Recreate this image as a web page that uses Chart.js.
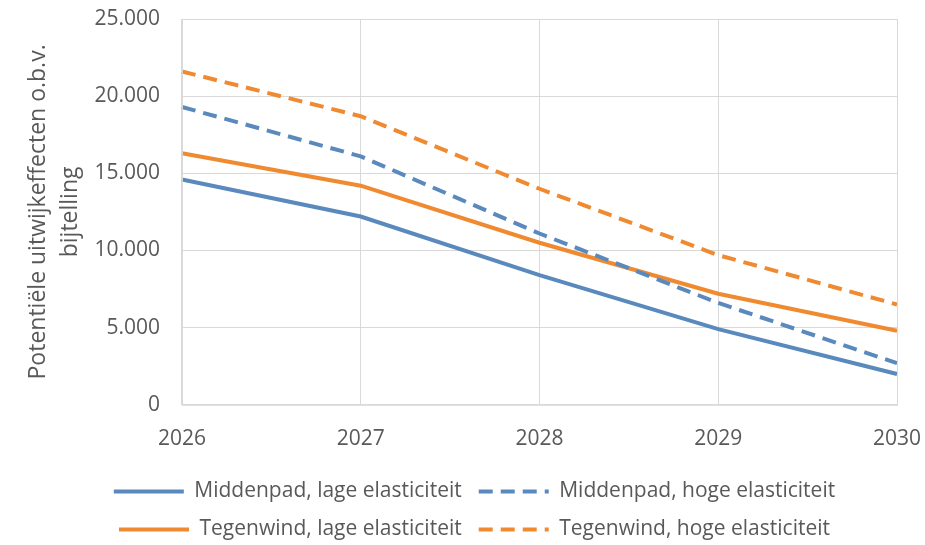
<!DOCTYPE html>
<html>
<head>
<meta charset="utf-8">
<script src="https://cdn.jsdelivr.net/npm/chart.js@4"></script>
<style>
  html, body { margin: 0; padding: 0; background: #fff; }
  #wrap { width: 925px; height: 545px; }
</style>
</head>
<body>
<div id="wrap"><canvas id="chart" width="925" height="545"></canvas></div>
<script>
// =====================================================
// DATA
// =====================================================

const jaren = ['2026', '2027', '2028', '2029', '2030']

const middenpadLaag  = [14600, 12200, 8400, 4900, 2000]
const middenpadHoog  = [19300, 16100, 11100, 6600, 2700]
const tegenwindLaag  = [16300, 14200, 10500, 7200, 4800]
const tegenwindHoog  = [21600, 18700, 14000, 9700, 6500]

const yTicks = [0, 5000, 10000, 15000, 20000, 25000]

const FONT   = 'Open Sans'
const GRIJS  = '#595959'
const BLAUW  = '#5a89bd'
const ORANJE = '#f08a30'

// =====================================================
// CHART
// =====================================================

function fmt(v) { return String(v).replace(/\B(?=(\d{3})+(?!\d))/g, '.') }

function lijn(label, data, kleur, dash) {
  return {
    label,
    data,
    borderColor: kleur,
    backgroundColor: kleur,
    borderWidth: 4,
    borderDash: dash ? [14, 8] : [],
    pointRadius: 0,
    tension: 0,
    fill: false
  }
}

new Chart(document.getElementById('chart').getContext('2d'), {
  type: 'line',
  data: {
    labels: jaren,
    datasets: [
      lijn('Middenpad, lage elasticiteit', middenpadLaag, BLAUW, false),
      lijn('Middenpad, hoge elasticiteit', middenpadHoog, BLAUW, true),
      lijn('Tegenwind, lage elasticiteit', tegenwindLaag, ORANJE, false),
      lijn('Tegenwind, hoge elasticiteit', tegenwindHoog, ORANJE, true)
    ]
  },
  options: {
    responsive: false,
    animation: false,
    layout: { padding: { top: 19, right: 28, left: 22, bottom: -5 } },
    plugins: {
      tooltip: { enabled: false },
      legend: {
        position: 'bottom',
        labels: {
          font: { family: FONT, size: 21 },
          color: GRIJS,
          usePointStyle: true,
          pointStyle: 'line',
          pointStyleWidth: 70,
          padding: 17,
          // lijnstijl (gestreept) doorgeven aan de legenda
          generateLabels: chart =>
            Chart.defaults.plugins.legend.labels.generateLabels(chart).map(it => {
              const ds = chart.data.datasets[it.datasetIndex]
              return { ...it, lineDash: ds.borderDash, lineWidth: 4, strokeStyle: ds.borderColor }
            })
        }
      }
    },
    scales: {
      x: {
        offset: false,
        grid: { color: '#d9d9d9', lineWidth: 1, drawTicks: false },
        border: { color: '#d9d9d9' },
        ticks: { font: { family: FONT, size: 21 }, color: GRIJS, padding: 22, maxRotation: 0 },
        afterFit: ax => { ax.height -= 10; ax.paddingRight = 0 }
      },
      y: {
        min: 0,
        max: 25000,
        afterBuildTicks: ax => { ax.ticks = yTicks.map(v => ({ value: v })) },
        afterFit: ax => { ax.paddingTop = 0 },
        grid: { color: '#d9d9d9', lineWidth: 1, drawTicks: false },
        border: { color: '#d9d9d9' },
        ticks: { font: { family: FONT, size: 21 }, color: GRIJS, padding: 22, callback: v => fmt(v) },
        title: {
          display: true,
          text: ['Potentiële uitwijkeffecten o.b.v.', 'bijtelling'],
          font: { family: FONT, size: 23, lineHeight: 1.4 },
          color: GRIJS,
          padding: { top: 0, bottom: -14 }
        }
      }
    }
  },
  plugins: [{
    id: 'rand',
    afterLayout(chart) {
      // legenda iets naar rechts, zoals in het origineel
      if (chart.legend) { chart.legend.left += 15; chart.legend.right += 15 }
    },
    afterDraw(chart) {
      const { ctx, chartArea: a } = chart
      ctx.save()
      ctx.strokeStyle = '#d9d9d9'
      ctx.lineWidth = 1
      ctx.strokeRect(a.left + 0.5, a.top + 0.5, a.right - a.left, a.bottom - a.top)
      ctx.restore()
    }
  }]
})
</script>
</body>
</html>
